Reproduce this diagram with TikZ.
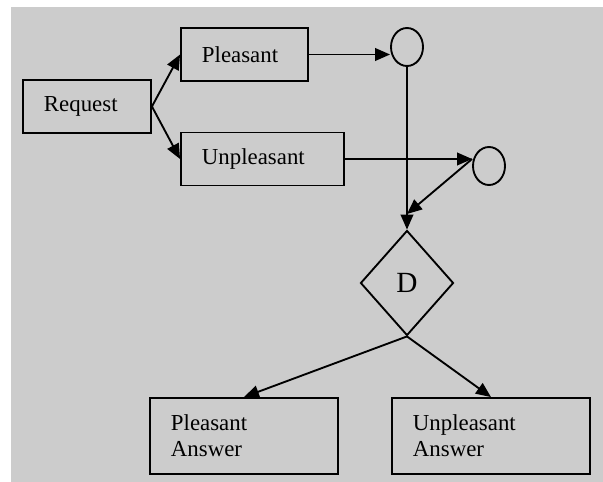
\documentclass[tikz,border=0pt]{standalone}
\usepackage{fontspec}
\setmainfont{Liberation Serif}
\usetikzlibrary{shapes.geometric,arrows.meta}
\definecolor{panel}{RGB}{204,204,204}
\tikzset{
  box/.style={draw, line width=1.6pt, minimum height=1.59cm, inner xsep=0.63cm, align=left, text width=#1},
  dot/.style={draw, ellipse, line width=1.6pt, minimum width=0.96cm, minimum height=1.14cm, inner sep=0pt},
  link/.style={line width=1.6pt, -{Triangle[length=0.45cm,width=0.38cm]}}
}
\begin{document}
\begin{tikzpicture}[x=0.03cm,y=-0.03cm,font=\fontsize{19.5}{22.5}\selectfont]
\useasboundingbox (0,0) rectangle (603,482);
\fill[panel] (11,7) rectangle (603,482);
\node[box=2.58cm] (req) at (87,106.5) {Request};
\node[box=2.55cm] (pls) at (244.5,54.5) {Pleasant};
\node[box=3.63cm] (unp) at (262.5,159) {Unpleasant};
\node[dot] (c1) at (407,47) {};
\node[dot] (c2) at (489,166) {};
\node[draw, diamond, line width=1.6pt, minimum width=2.79cm, minimum height=3.15cm, inner sep=0pt, font=\fontsize{25}{28}\selectfont] (dia) at (407,283) {D};
\node[box=4.38cm, minimum height=2.28cm] (pans) at (244,436) {Pleasant\\Answer};
\node[box=4.68cm, minimum height=2.28cm] (uans) at (491,436) {Unpleasant\\Answer};
\coordinate (join) at (407,214);
\draw[link] (req.east) -- (pls.west);
\draw[link] (req.east) -- (unp.west);
\draw[link] (pls.east) -- (pls.east -| c1.west);
\draw[link] (unp.east) -- (unp.east -| c2.west);
\draw[link] (c1.south) -- (dia.north);
\draw[link] (unp.east -| c2.west) -- (join);
\draw[link] (dia.south) -- (pans.north);
\draw[link] (dia.south) -- (uans.north);
\end{tikzpicture}
\end{document}
